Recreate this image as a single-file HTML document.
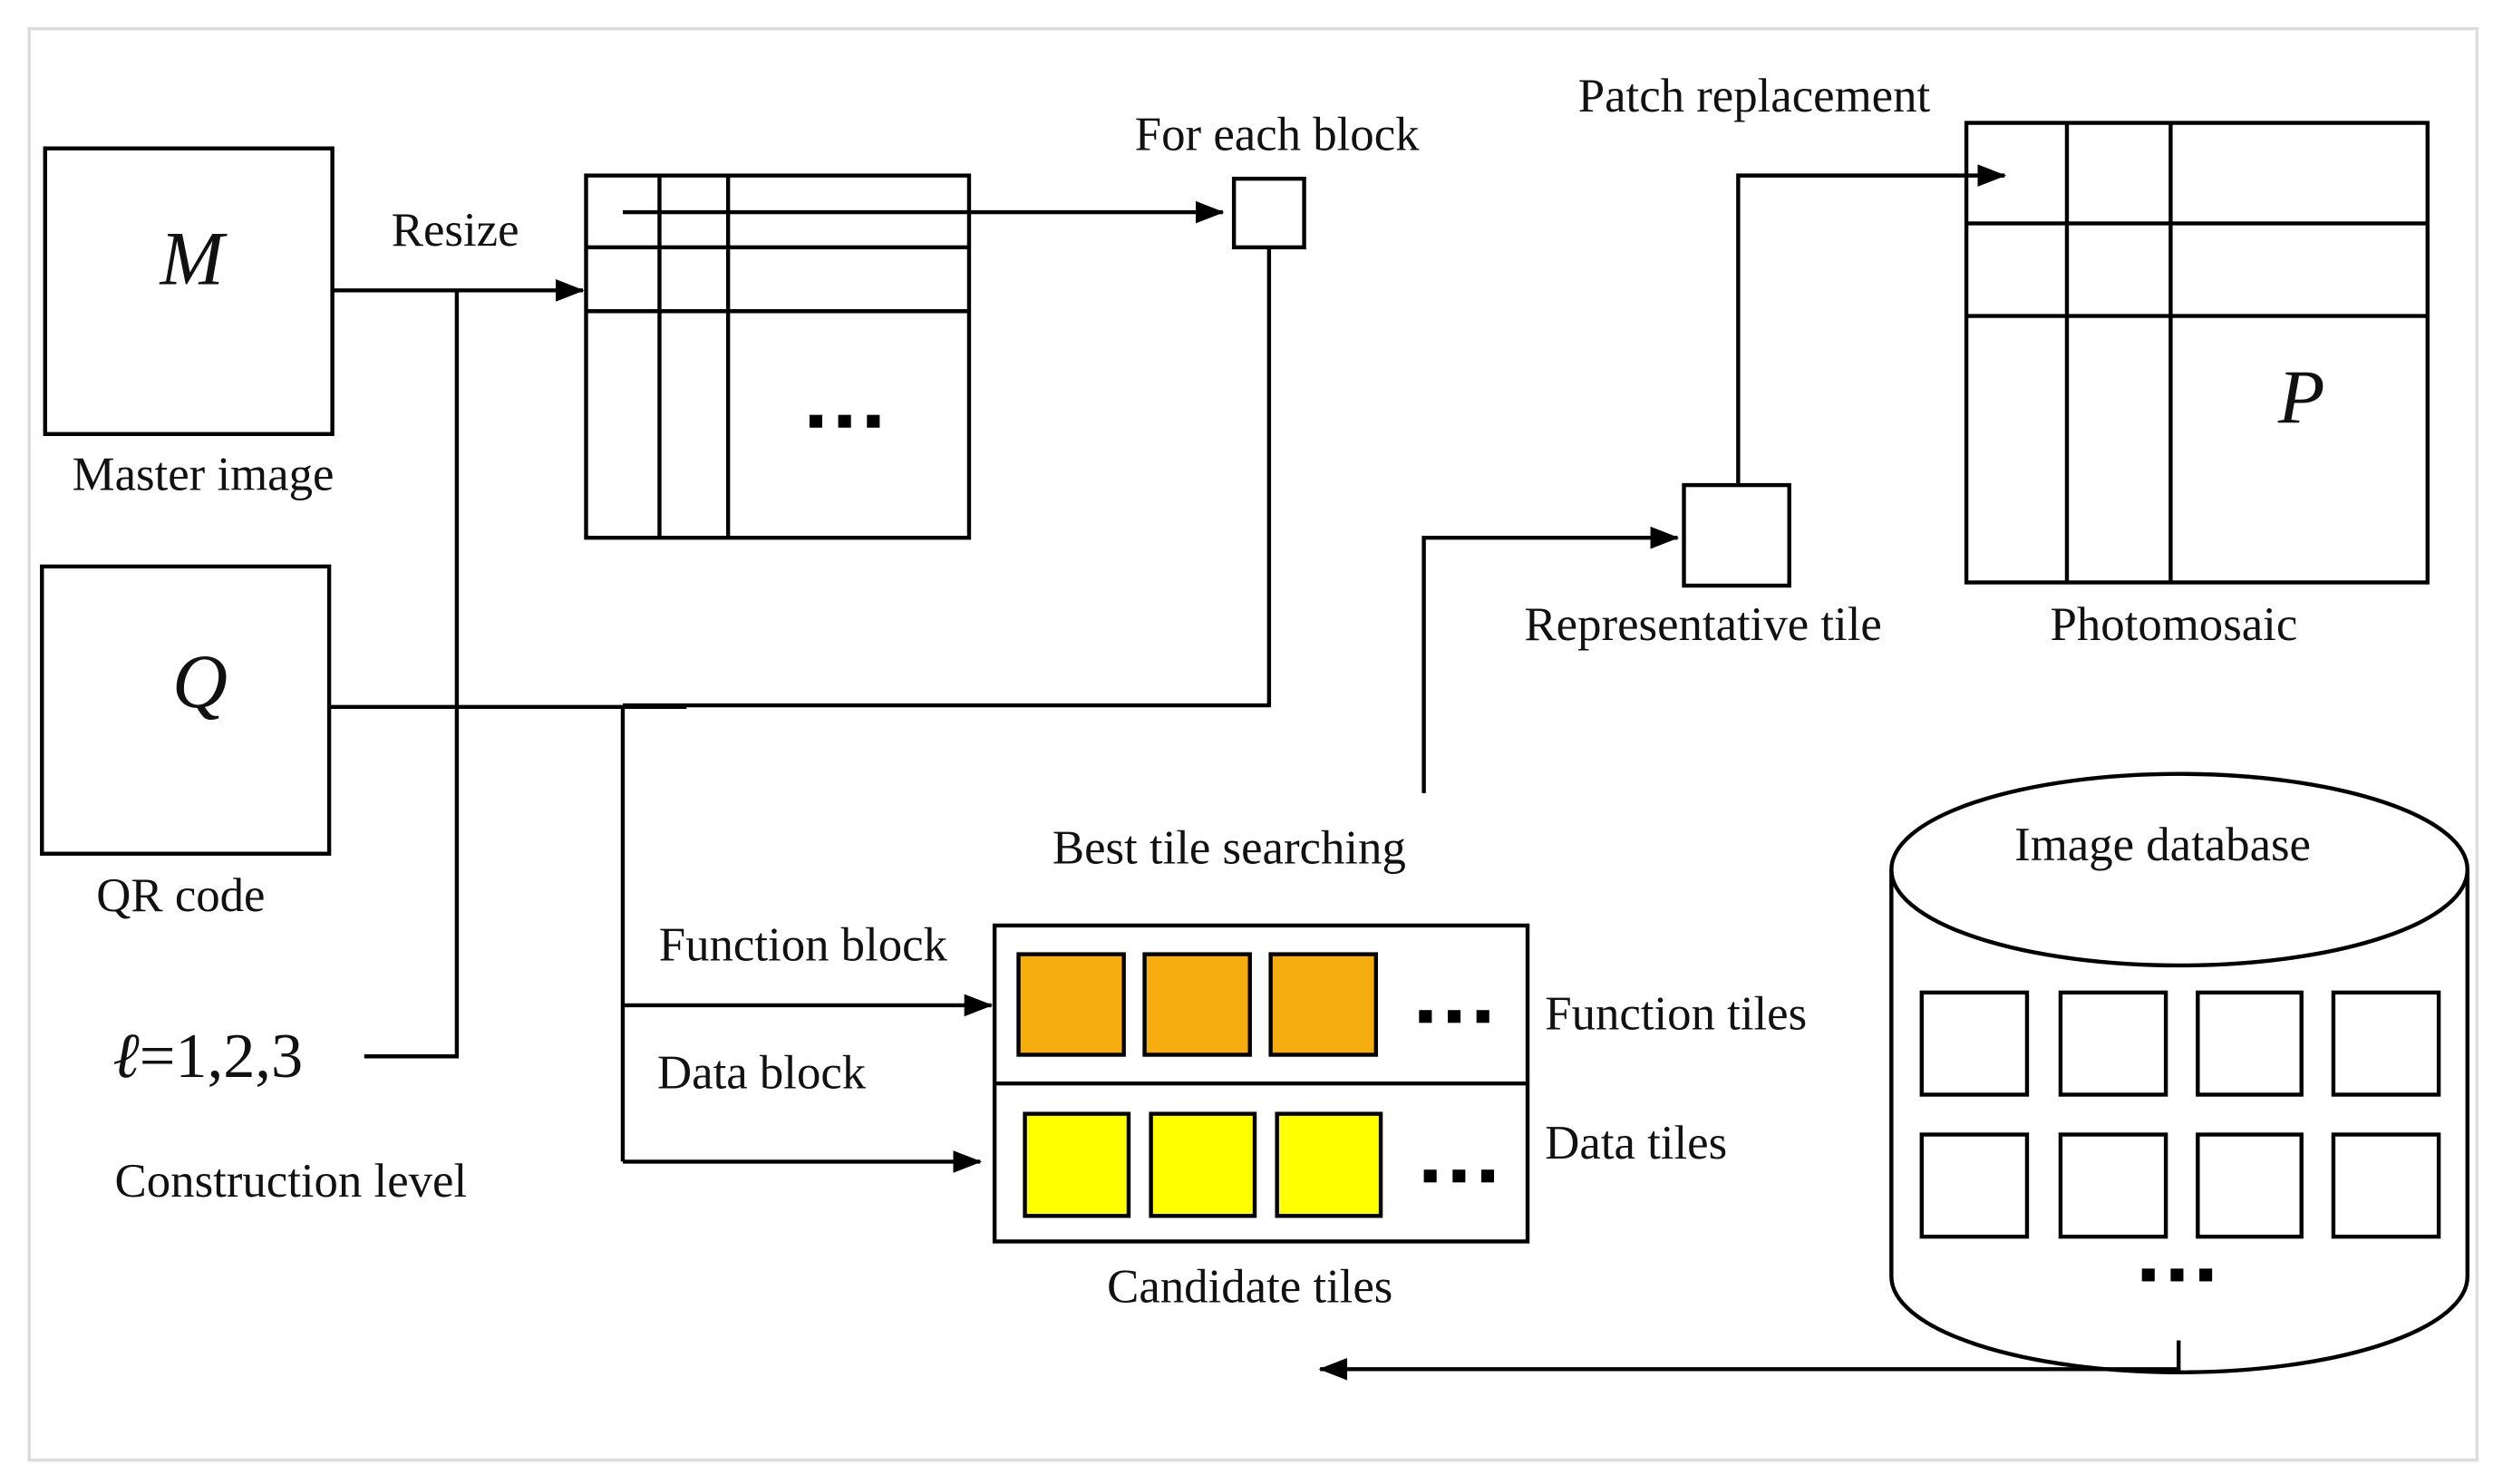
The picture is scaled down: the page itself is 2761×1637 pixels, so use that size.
<!DOCTYPE html>
<html><head><meta charset="utf-8"><style>
html,body{margin:0;padding:0;background:#fff;}
svg{display:block;}
text{font-family:"Liberation Serif",serif;fill:#111;}
</style></head><body>
<svg width="2761" height="1637" viewBox="0 0 1568 930" xmlns="http://www.w3.org/2000/svg">
<defs><marker id="b" markerWidth="18" markerHeight="14" refX="17" refY="7" orient="auto" markerUnits="userSpaceOnUse"><path d="M0,0 L18,7 L0,14 z" fill="#000"/></marker></defs>
<rect x="0" y="0" width="1568" height="930" fill="#fff"/>
<rect x="18" y="18" width="1534" height="897" fill="none" stroke="#ddd" stroke-width="2"/>
<g fill="none" stroke="#000" stroke-width="2.5">
<rect x="28" y="93" width="180" height="179"/>
<rect x="26" y="355" width="180" height="180"/>
<line x1="208" y1="182" x2="365" y2="182" marker-end="url(#b)"/>
<polyline points="286,182 286,662 228,662"/>
<rect x="367" y="110" width="240" height="227"/>
<line x1="367" y1="155" x2="607" y2="155"/><line x1="367" y1="195" x2="607" y2="195"/>
<line x1="413" y1="110" x2="413" y2="337"/><line x1="456" y1="110" x2="456" y2="337"/>
<line x1="390" y1="133" x2="766" y2="133" marker-end="url(#b)"/>
<rect x="773" y="112" width="44" height="43"/>
<polyline points="795,155 795,442 390,442"/>
<line x1="206" y1="443" x2="430" y2="443"/>
<line x1="390" y1="442" x2="390" y2="728"/>
<line x1="390" y1="630" x2="621" y2="630" marker-end="url(#b)"/>
<line x1="390" y1="728" x2="614" y2="728" marker-end="url(#b)"/>
<rect x="623" y="580" width="334" height="198"/>
<line x1="623" y1="679" x2="957" y2="679"/>
<polyline points="892,497 892,337 1051,337" marker-end="url(#b)"/>
<rect x="1055" y="304" width="66" height="63"/>
<polyline points="1089,304 1089,110 1256,110" marker-end="url(#b)"/>
<rect x="1232" y="77" width="289" height="288"/>
<line x1="1295" y1="77" x2="1295" y2="365"/><line x1="1360" y1="77" x2="1360" y2="365"/>
<line x1="1232" y1="140" x2="1521" y2="140"/><line x1="1232" y1="198" x2="1521" y2="198"/>
<path d="M1185,545 L1185,800 A180.5,60 0 0 0 1546,800 L1546,545"/>
<ellipse cx="1365.5" cy="545" rx="180.5" ry="60"/>
<polyline points="1365,840 1365,858 827,858" marker-end="url(#b)"/>
</g>
<g stroke="#000" stroke-width="2.5">
<rect x="638" y="598" width="66" height="63" fill="#f5ad0f"/>
<rect x="717" y="598" width="66" height="63" fill="#f5ad0f"/>
<rect x="796" y="598" width="66" height="63" fill="#f5ad0f"/>
<rect x="642" y="698" width="65" height="64" fill="#ffff00"/>
<rect x="721" y="698" width="65" height="64" fill="#ffff00"/>
<rect x="800" y="698" width="65" height="64" fill="#ffff00"/>
</g>
<g fill="none" stroke="#000" stroke-width="2.5">
<rect x="1204" y="622" width="66" height="64"/><rect x="1291" y="622" width="66" height="64"/>
<rect x="1377" y="622" width="65" height="64"/><rect x="1462" y="622" width="66" height="64"/>
<rect x="1204" y="711" width="66" height="64"/><rect x="1291" y="711" width="66" height="64"/>
<rect x="1377" y="711" width="65" height="64"/><rect x="1462" y="711" width="66" height="64"/>
</g>
<g fill="#000">
<rect x="507" y="260" width="8" height="8"/><rect x="525" y="260" width="8" height="8"/><rect x="543" y="260" width="8" height="8"/>
<rect x="889" y="633" width="8" height="8"/><rect x="907" y="633" width="8" height="8"/><rect x="925" y="633" width="8" height="8"/>
<rect x="892" y="733" width="8" height="8"/><rect x="910" y="733" width="8" height="8"/><rect x="928" y="733" width="8" height="8"/>
<rect x="1342" y="795" width="8" height="8"/><rect x="1360" y="795" width="8" height="8"/><rect x="1378" y="795" width="8" height="8"/>
</g>
<g font-size="30" text-anchor="middle">
<text x="120" y="178" font-size="48" font-style="italic">M</text>
<text x="125" y="443" font-size="48" font-style="italic">Q</text>
<text x="1442" y="265" font-size="48" font-style="italic">P</text>
<text x="127" y="307">Master image</text>
<text x="285" y="154">Resize</text>
<text x="800" y="94">For each block</text>
<text x="1099" y="70">Patch replacement</text>
<text x="113" y="571">QR code</text>
<text x="130" y="675" font-size="40" font-style="italic">ℓ<tspan font-style="normal">=1,2,3</tspan></text>
<text x="182" y="750">Construction level</text>
<text x="503" y="602">Function block</text>
<text x="477" y="682">Data block</text>
<text x="770" y="541">Best tile searching</text>
<text x="1050" y="645">Function tiles</text>
<text x="1025" y="726">Data tiles</text>
<text x="783" y="816">Candidate tiles</text>
<text x="1067" y="401">Representative tile</text>
<text x="1362" y="401">Photomosaic</text>
<text x="1355" y="539">Image database</text>
</g>
</svg>
</body></html>
